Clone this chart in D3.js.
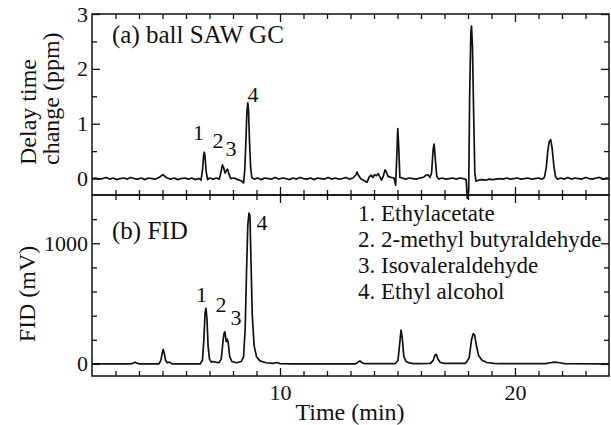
<!DOCTYPE html>
<html>
<head>
<meta charset="utf-8">
<script src="https://cdn.jsdelivr.net/npm/d3@7"></script>
<style>
  body { margin: 0; background: #fff; }
</style>
</head>
<body>
<div id="chart"></div>
<script>
// ball SAW GC trace: [time (min), delay time change (ppm)]
var sawTrace = [
  [2.00,0.00],[2.15,0.01],[2.30,-0.01],[2.45,0.00],[2.60,0.02],[2.75,-0.01],[2.90,0.01],[3.05,-0.02],
  [3.20,0.00],[3.35,0.01],[3.50,-0.01],[3.65,0.02],[3.80,0.00],[3.95,-0.01],[4.10,0.01],[4.25,-0.02],
  [4.40,0.01],[4.55,0.00],[4.70,-0.01],[4.85,0.02],[4.95,0.05],[5.02,0.07],[5.10,0.04],[5.20,0.01],
  [5.35,-0.01],[5.50,0.01],[5.65,-0.02],[5.80,0.00],[5.95,0.01],[6.10,-0.01],[6.25,0.01],[6.40,-0.02],
  [6.55,0.00],[6.64,-0.03],[6.70,0.15],[6.75,0.42],[6.78,0.48],[6.81,0.40],[6.86,0.12],[6.92,-0.02],
  [7.00,0.01],[7.15,-0.01],[7.30,0.01],[7.42,-0.01],[7.48,0.10],[7.55,0.25],[7.60,0.20],[7.66,0.10],
  [7.72,0.15],[7.77,0.17],[7.83,0.08],[7.90,0.00],[8.05,0.01],[8.20,-0.02],[8.35,-0.04],[8.45,-0.08],
  [8.50,0.15],[8.55,0.70],[8.59,1.20],[8.63,1.38],[8.66,1.25],[8.70,0.70],[8.75,0.20],[8.80,0.02],
  [8.90,-0.01],[9.05,0.01],[9.20,-0.02],[9.35,0.01],[9.50,0.00],[9.65,-0.01],[9.80,0.02],[9.95,-0.01],
  [10.10,0.01],[10.25,0.00],[10.40,-0.02],[10.55,0.01],[10.70,-0.01],[10.85,0.02],[11.00,0.00],[11.15,-0.01],
  [11.30,0.01],[11.45,-0.02],[11.60,0.01],[11.75,0.00],[11.90,-0.01],[12.05,0.02],[12.20,-0.01],[12.35,0.01],
  [12.50,-0.01],[12.65,0.00],[12.80,0.02],[12.95,-0.01],[13.10,0.01],[13.22,0.06],[13.28,0.12],[13.35,0.05],
  [13.45,-0.01],[13.60,-0.04],[13.70,-0.07],[13.80,0.03],[13.88,0.06],[13.95,0.02],[14.02,0.07],[14.10,0.05],
  [14.18,0.09],[14.25,0.03],[14.32,-0.03],[14.40,0.05],[14.47,0.16],[14.52,0.12],[14.60,0.04],[14.72,0.02],
  [14.85,0.01],[14.92,-0.12],[14.97,0.40],[15.01,0.91],[15.05,0.60],[15.10,0.02],[15.20,0.01],[15.35,-0.01],
  [15.50,0.01],[15.65,0.00],[15.80,-0.01],[15.95,0.01],[16.10,0.02],[16.22,0.06],[16.30,0.07],[16.38,0.02],
  [16.45,0.10],[16.52,0.55],[16.56,0.63],[16.61,0.35],[16.67,0.04],[16.75,-0.01],[16.90,0.01],[17.05,-0.01],
  [17.20,0.00],[17.35,0.01],[17.50,-0.01],[17.65,0.01],[17.80,0.00],[17.92,-0.02],[17.97,-0.36],[18.03,-0.20],
  [18.07,1.50],[18.12,2.65],[18.15,2.78],[18.19,2.40],[18.24,1.20],[18.29,0.10],[18.34,-0.05],[18.45,-0.03],
  [18.60,-0.02],[18.75,-0.03],[18.90,-0.01],[19.05,-0.02],[19.20,-0.01],[19.35,0.00],[19.50,-0.01],[19.65,0.01],
  [19.80,-0.01],[19.95,0.00],[20.10,0.01],[20.25,-0.01],[20.40,0.00],[20.55,0.01],[20.70,-0.01],[20.85,0.00],
  [21.00,0.01],[21.15,-0.01],[21.25,0.02],[21.33,0.20],[21.40,0.52],[21.46,0.68],[21.52,0.71],[21.58,0.55],
  [21.65,0.25],[21.72,0.04],[21.80,-0.01],[21.95,0.01],[22.10,-0.01],[22.25,0.02],[22.40,-0.01],[22.55,0.01],
  [22.70,0.00],[22.85,-0.01],[23.00,0.02],[23.15,0.00],[23.30,-0.01],[23.45,0.01],[23.60,0.02],[23.75,-0.01],
  [23.90,0.01],[24.00,0.00]
];

// FID trace: [time (min), FID (mV)]
var fidTrace = [
  [2.0,0],[3.6,0],[3.75,5],[3.83,15],[3.92,5],[4.05,0],[4.85,0],[4.93,30],[5.0,100],[5.03,120],
  [5.07,95],[5.13,30],[5.2,10],[5.3,15],[5.4,0],[6.6,0],[6.7,30],[6.76,200],[6.81,420],[6.85,460],
  [6.89,380],[6.94,150],[7.0,40],[7.08,15],[7.15,20],[7.25,15],[7.4,10],[7.5,40],[7.58,200],[7.62,255],
  [7.66,266],[7.71,185],[7.76,205],[7.80,170],[7.86,60],[7.95,20],[8.15,10],[8.35,20],[8.45,60],[8.52,300],
  [8.58,800],[8.63,1150],[8.68,1250],[8.72,1230],[8.76,900],[8.82,400],[8.9,150],[9.0,60],[9.15,25],[9.4,10],
  [9.7,5],[9.86,12],[10.0,3],[10.5,0],[13.2,0],[13.32,15],[13.4,25],[13.48,12],[13.6,2],[14.9,2],
  [15.02,30],[15.1,180],[15.15,280],[15.2,220],[15.27,60],[15.37,20],[15.5,8],[15.7,3],[16.4,5],[16.52,30],
  [16.6,75],[16.65,80],[16.72,40],[16.82,12],[17.0,5],[17.9,5],[18.05,50],[18.15,200],[18.22,250],[18.28,240],
  [18.36,150],[18.45,70],[18.6,30],[18.8,12],[19.1,5],[19.5,2],[21.3,2],[21.5,10],[21.7,15],[21.9,10],
  [22.1,3],[24.0,0]
];

// peak numbers: [text, time, value]
var sawPeakLabels = [["1",6.53,0.70],["2",7.36,0.556],["3",7.91,0.41],["4",8.85,1.395]];
var fidPeakLabels = [["1",6.66,513],["2",7.49,430],["3",8.13,322],["4",9.23,1109]];

var legendItems = ["1. Ethylacetate", "2. 2-methyl butyraldehyde", "3. Isovaleraldehyde", "4. Ethyl alcohol"];

// ticks
var timeMajor = [10, 20];
var timeMinor = [3,4,5,6,7,8,9,11,12,13,14,15,16,17,18,19,21,22,23];
var sawMajor = [0, 1, 2, 3];
var sawMinor = [0.5, 1.5, 2.5];
var fidMajor = [0, 1000];
var fidMinor = [200, 400, 600, 800, 1200];

// layout
var width = 611, height = 425;
var plotLeft = 92, plotRight = 609, plotTop = 14, plotMid = 195, plotBottom = 376;

var svg = d3.select("#chart")
  .append("svg")
  .attr("width", width)
  .attr("height", height);

var x = d3.scaleLinear().domain([2, 24]).range([plotLeft, plotRight]);
var ySaw = d3.scaleLinear().domain([-0.3, 3]).range([plotMid, plotTop]);
var yFid = d3.scaleLinear().domain([-100, 1400]).range([plotBottom, plotMid]);

// every text in Times-like serif
function setFont(sel, size) {
  return sel
    .attr("font-family", "Liberation Serif")
    .style("font-family", "Liberation Serif")
    .style("font-size", size + "px")
    .attr("fill", "#111");
}

function drawPanel(y, y0, y1, major, minor, trace, peaks, showTime) {
  var g = svg.append("g");

  // trace
  g.append("path")
    .datum(trace)
    .attr("d", d3.line().x(function (d) { return x(d[0]); }).y(function (d) { return y(d[1]); }))
    .attr("fill", "none")
    .attr("stroke", "#111")
    .attr("stroke-width", 1.7)
    .attr("stroke-linejoin", "round");

  // ticks pointing inward on all four sides
  function ax(axis, tx, ty) {
    var a = g.append("g").attr("transform", "translate(" + tx + "," + ty + ")").call(axis);
    a.attr("font-family", null).attr("font-size", null);
    a.select(".domain").remove();
    a.selectAll("line").attr("stroke", "#111").attr("stroke-width", 1.3);
    setFont(a.selectAll("text"), 22);
    return a;
  }
  ax(d3.axisBottom(x).tickValues(timeMinor).tickSize(-5).tickFormat(""), 0, y1);
  ax(d3.axisBottom(x).tickValues(timeMajor).tickSize(-8).tickPadding(8)
    .tickFormat(showTime ? d3.format("d") : ""), 0, y1);
  ax(d3.axisTop(x).tickValues(timeMinor).tickSize(-5).tickFormat(""), 0, y0);
  ax(d3.axisTop(x).tickValues(timeMajor).tickSize(-8).tickFormat(""), 0, y0);

  ax(d3.axisLeft(y).tickValues(minor).tickSize(-5).tickFormat(""), plotLeft, 0);
  ax(d3.axisLeft(y).tickValues(major).tickSize(-8).tickPadding(4).tickFormat(d3.format("d")), plotLeft, 0);
  ax(d3.axisRight(y).tickValues(minor).tickSize(-5).tickFormat(""), plotRight, 0);
  ax(d3.axisRight(y).tickValues(major).tickSize(-8).tickFormat(""), plotRight, 0);

  // frame
  g.append("rect")
    .attr("x", plotLeft).attr("y", y0)
    .attr("width", plotRight - plotLeft).attr("height", y1 - y0)
    .attr("fill", "none").attr("stroke", "#111").attr("stroke-width", 1.5);

  // peak numbers
  setFont(g.selectAll(".peak")
    .data(peaks)
    .enter().append("text")
    .attr("class", "peak")
    .attr("x", function (d) { return x(d[1]); })
    .attr("y", function (d) { return y(d[2]); })
    .attr("text-anchor", "middle"), 22)
    .text(function (d) { return d[0]; });
}

drawPanel(ySaw, plotTop, plotMid, sawMajor, sawMinor, sawTrace, sawPeakLabels, false);
drawPanel(yFid, plotMid, plotBottom, fidMajor, fidMinor, fidTrace, fidPeakLabels, true);

// panel titles
setFont(svg.append("text").attr("x", 112).attr("y", 43), 25).text("(a) ball SAW GC");
setFont(svg.append("text").attr("x", 112).attr("y", 239), 25).text("(b) FID");

// legend of compounds
setFont(svg.selectAll(".legend")
  .data(legendItems)
  .enter().append("text")
  .attr("class", "legend")
  .attr("x", 358)
  .attr("y", function (d, i) { return 221 + i * 26; }), 23)
  .text(function (d) { return d; });

// axis titles
setFont(svg.append("text").attr("transform", "translate(36,165) rotate(-90)"), 24).text("Delay time");
setFont(svg.append("text").attr("transform", "translate(59,165) rotate(-90)"), 24).text("change (ppm)");
setFont(svg.append("text").attr("transform", "translate(35,294) rotate(-90)").attr("text-anchor", "middle"), 24)
  .text("FID (mV)");
setFont(svg.append("text").attr("x", 350).attr("y", 420).attr("text-anchor", "middle"), 24).text("Time (min)");
</script>
</body>
</html>
